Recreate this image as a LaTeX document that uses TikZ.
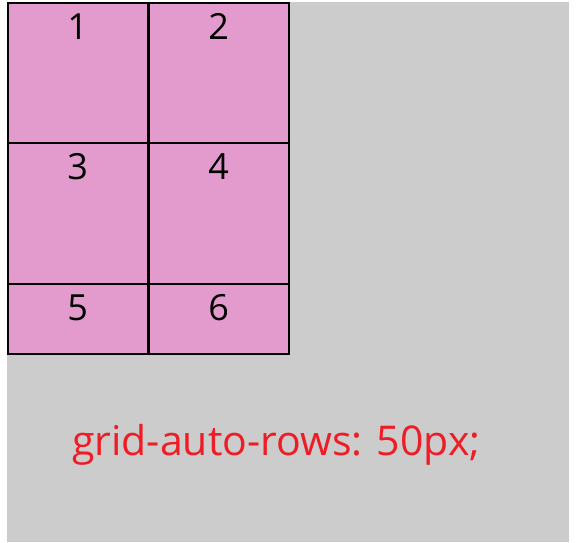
\documentclass[tikz,border=0pt]{standalone}
\usepackage{fontspec}
\setmainfont{Open Sans}
\usetikzlibrary{positioning}

\definecolor{pagegray}{HTML}{CCCCCC}
\definecolor{itempink}{HTML}{E29BCC}
\definecolor{noteRed}{HTML}{EE1C25}

\tikzset{
  item/.style={draw=black, line width=1.5pt, fill=itempink, minimum width=140pt, inner sep=0pt, anchor=north west},
  itemnum/.style={font=\fontsize{36}{36}\selectfont},
  note/.style={font=\fontsize{41}{41}\selectfont, text=noteRed, anchor=base west, inner sep=0pt}
}

\begin{document}
\begin{tikzpicture}[x=1pt,y=-1pt]
\useasboundingbox (0,0) rectangle (579,542);
\fill[pagegray] (7,2) rectangle (569,542);
% grid items, last row is the short one
\foreach \n/\x/\y/\h in {1/7/2/140,2/148/2/140,3/7/142/141,4/148/142/141,5/7/283/70,6/148/283/70}{
  \node[item, minimum height=\h pt] (item\n) at (\x,\y) {};
  \node[itemnum, below=8pt of item\n.north] (num\n) {\n};
}
\node[note] (rowsnote) at (72,455) {grid-auto-rows: 50px;};
\end{tikzpicture}
\end{document}
